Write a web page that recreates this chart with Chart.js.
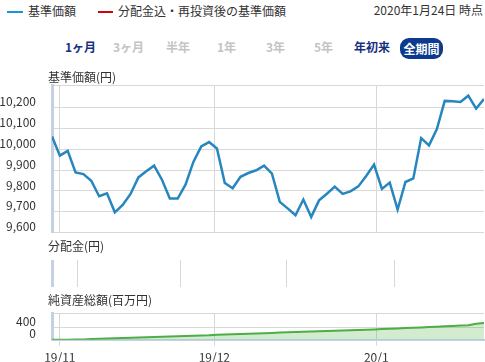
<!DOCTYPE html>
<html><head><meta charset="utf-8">
<script src="https://cdn.jsdelivr.net/npm/chart.js@4/dist/chart.umd.min.js"></script>
<style>
html,body{margin:0;padding:0;background:#fff;}
body{width:485px;height:362px;position:relative;overflow:hidden;font-family:'Noto Sans CJK JP',sans-serif;font-size:12px;color:#333;}
.t{position:absolute;line-height:16px;white-space:nowrap;z-index:5;}
.ln{position:absolute;height:2px;}
.btn{position:absolute;top:39px;line-height:16px;font-weight:bold;color:#c4c4c4;white-space:nowrap;}
.on{color:#17307e;}
.pill{position:absolute;left:400px;top:38px;width:43px;height:21px;border-radius:9px;background:#0b3a8e;color:#fff;font-weight:bold;text-align:center;line-height:21px;}
canvas{position:absolute;left:0;}
</style></head><body>
<div class="ln" style="left:7px;top:11px;width:16px;background:#1a96d4"></div>
<div class="t" style="left:28px;top:3px">基準価額</div>
<div class="ln" style="left:98px;top:11px;width:15px;background:#d3000f"></div>
<div class="t" style="left:118px;top:3px">分配金込・再投資後の基準価額</div>
<div class="t" style="right:2px;top:2px">2020年1月24日 時点</div>

<div class="btn on" style="left:65px">1ヶ月</div>
<div class="btn" style="left:113px">3ヶ月</div>
<div class="btn" style="left:166px">半年</div>
<div class="btn" style="left:217px">1年</div>
<div class="btn" style="left:266px">3年</div>
<div class="btn" style="left:314px">5年</div>
<div class="btn on" style="left:354px">年初来</div>
<div class="pill">全期間</div>

<div class="t" style="left:48px;top:69px">基準価額(円)</div>
<div class="t" style="left:48px;top:238px">分配金(円)</div>
<div class="t" style="left:48px;top:292px">純資産総額(百万円)</div>

<canvas id="c1" width="485" height="194" style="top:62px"></canvas>
<canvas id="c2" width="485" height="27" style="top:260px"></canvas>
<canvas id="c3" width="485" height="73" style="top:290px"></canvas>

<script>
// ---- data ----
const dates = [
 '2019-10-31',
 '2019-11-01','2019-11-05','2019-11-06','2019-11-07','2019-11-08',
 '2019-11-11','2019-11-12','2019-11-13','2019-11-14','2019-11-15',
 '2019-11-18','2019-11-19','2019-11-20','2019-11-21','2019-11-22',
 '2019-11-25','2019-11-26','2019-11-27','2019-11-28','2019-11-29',
 '2019-12-02','2019-12-03','2019-12-04','2019-12-05','2019-12-06',
 '2019-12-09','2019-12-10','2019-12-11','2019-12-12','2019-12-13',
 '2019-12-16','2019-12-17','2019-12-18','2019-12-19','2019-12-20',
 '2019-12-23','2019-12-24','2019-12-25','2019-12-26','2019-12-27',
 '2019-12-30',
 '2020-01-06','2020-01-07','2020-01-08','2020-01-09','2020-01-10',
 '2020-01-14','2020-01-15','2020-01-16','2020-01-17',
 '2020-01-20','2020-01-21','2020-01-22','2020-01-23','2020-01-24'
];
const navValues = [
 10061, 9969, 9992, 9889, 9881, 9849, 9775, 9789, 9698, 9733,
 9786, 9865, 9894, 9921, 9854, 9764, 9764, 9830, 9939, 10013,
 10034, 10003, 9838, 9813, 9868, 9886, 9899, 9921, 9883, 9748,
 9717, 9684, 9759, 9676, 9755, 9787, 9821, 9786, 9798, 9822,
 9872, 9926, 9810, 9840, 9711, 9843, 9860, 10053, 10018, 10096,
 10231, 10229, 10226, 10256, 10194, 10240
];
const distributionValues = [];
const netAssetValues = [
 0, 2, 4, 8, 14, 23, 32, 41, 50, 59,
 68, 77, 86, 94, 102, 110, 118, 126, 134, 142,
 150, 168, 177, 186, 194, 203, 212, 220, 229, 238,
 246, 255, 264, 273, 281, 290, 299, 308, 316, 325,
 334, 343, 354, 365, 376, 387, 398, 410, 422, 435,
 447, 460, 472, 485, 530, 555
];
const monthTickDates = ['2019-11-01','2019-12-01','2020-01-01'];
const monthTickLabels = ['19/11','19/12','20/1'];
const navTicks = [9600, 9700, 9800, 9900, 10000, 10100, 10200];
const navAxisMin = 9600, navAxisMax = 10306;
const assetTicks = [0, 400];
const assetAxisMin = 0, assetAxisMax = 880;

// ---- helpers ----
const toDay = s => { const [y,m,d] = s.split('-').map(Number); return Date.UTC(y,m-1,d)/86400000; };
const dayNums = dates.map(toDay);
function ordinalPos(s){
  const t = toDay(s);
  for (let i=0;i<dayNums.length-1;i++){
    if (t>=dayNums[i] && t<dayNums[i+1]) return i + (t-dayNums[i])/(dayNums[i+1]-dayNums[i]);
  }
  return dayNums.length-1;
}
const monthPos = monthTickDates.map(ordinalPos);
const pts = arr => arr.map((v,i)=>({x:i,y:v}));

Chart.defaults.font.family = "'Noto Sans CJK JP', sans-serif";
Chart.defaults.font.size = 12;
Chart.defaults.color = '#333';
Chart.defaults.animation = false;

const GRID = '#d8d8d8';
const AXIS = '#c3d1e3';
const xMax = dates.length - 1;

function xScale(showLabels){
  return {
    type:'linear', min:0, max:xMax,
    afterBuildTicks(s){ s.ticks = monthPos.map(v=>({value:v})); },
    grid:{color:GRID, drawTicks:showLabels, tickLength:6},
    border:{display:showLabels, color:AXIS, width:2},
    ticks:{display:showLabels, padding:4, color:'#333', autoSkip:false, maxRotation:0,
      callback:(v,i)=>monthTickLabels[i]},
    afterFit(s){ if(showLabels) s.height = 22; }
  };
}
const yFit = s => { s.width = 52; };
const base = {responsive:false, devicePixelRatio:1,
  plugins:{legend:{display:false}, tooltip:{enabled:false}}};

new Chart(document.getElementById('c1'), {
  type:'line',
  data:{datasets:[{data:pts(navValues), borderColor:'#2786bf', borderWidth:2.5,
    pointRadius:0, tension:0, fill:false}]},
  options:{...base,
    layout:{padding:{top:0,bottom:0,left:0,right:1}},
    scales:{
      x:xScale(false),
      y:{min:navAxisMin, max:navAxisMax,
        afterBuildTicks(s){ s.ticks = navTicks.map(v=>({value:v})).concat([{value:navAxisMax}]); },
        grid:{color:GRID, drawTicks:false},
        border:{display:true, color:AXIS, width:3},
        ticks:{padding:16, labelOffset:-6, color:'#333', autoSkip:false,
          callback:v => navTicks.includes(v) ? v.toLocaleString('en-US') : ''},
        afterFit:yFit}
    }}
});

new Chart(document.getElementById('c2'), {
  type:'bar',
  data:{datasets:[{data:pts(distributionValues), backgroundColor:'#d3000f'}]},
  options:{...base,
    layout:{padding:{top:0,bottom:0,left:0,right:1}},
    scales:{
      x:xScale(false),
      y:{min:0, max:1, grid:{display:false},
        border:{display:true, color:AXIS, width:3},
        ticks:{display:false}, afterFit:yFit}
    }}
});

new Chart(document.getElementById('c3'), {
  type:'line',
  data:{datasets:[{data:pts(netAssetValues), borderColor:'#4cae45', borderWidth:2,
    backgroundColor:'rgba(80,176,60,0.25)', pointRadius:0, tension:0, fill:'origin'}]},
  options:{...base,
    layout:{padding:{top:0,bottom:0,left:0,right:1}},
    scales:{
      x:xScale(true),
      y:{min:assetAxisMin, max:assetAxisMax,
        afterBuildTicks(s){ s.ticks = assetTicks.map(v=>({value:v})).concat([{value:assetAxisMax}]); },
        grid:{color:GRID, drawTicks:false},
        border:{display:true, color:AXIS, width:3},
        ticks:{padding:16, labelOffset:-6, color:'#333', autoSkip:false,
          callback:v => assetTicks.includes(v) ? String(v) : ''},
        afterFit:yFit}
    }}
});
</script>
</body></html>
